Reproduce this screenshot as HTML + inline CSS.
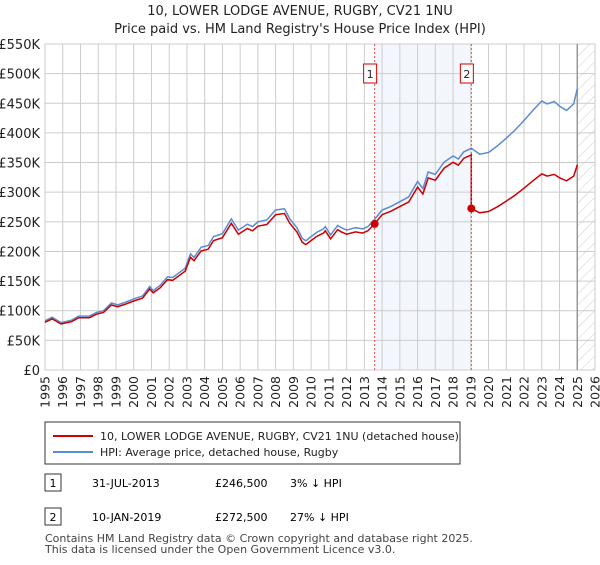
<!DOCTYPE html>
<html><head><meta charset="utf-8"><style>
body{margin:0;background:#fff;font-family:"Liberation Sans","DejaVu Sans",sans-serif;}
svg text{font-family:"DejaVu Sans","Liberation Sans",sans-serif;}
</style></head><body>
<svg id="c" width="600" height="560" viewBox="0 0 600 560">
<defs><pattern id="hatch" width="8" height="8" patternUnits="userSpaceOnUse" patternTransform="rotate(45)"><line x1="0" y1="0" x2="0" y2="8" stroke="#ccc" stroke-width="1"/></pattern></defs>
<text x="300" y="15" text-anchor="middle" font-size="13" fill="#222">10, LOWER LODGE AVENUE, RUGBY, CV21 1NU</text>
<text x="300" y="33" text-anchor="middle" font-size="13" fill="#222">Price paid vs. HM Land Registry's House Price Index (HPI)</text>
<g id="grid"></g><g id="marks"></g><g id="axes"></g>
<rect x="45" y="422" width="415" height="42" fill="#fff" stroke="#333" stroke-width="1"/>
<line x1="53" y1="436" x2="93" y2="436" stroke="#cc0000" stroke-width="2"/>
<text x="100" y="440" font-size="11" fill="#222">10, LOWER LODGE AVENUE, RUGBY, CV21 1NU (detached house)</text>
<line x1="53" y1="452" x2="93" y2="452" stroke="#5b8bd0" stroke-width="2"/>
<text x="100" y="456" font-size="11" fill="#222">HPI: Average price, detached house, Rugby</text>
<g>
<rect x="45" y="474" width="16" height="17" fill="#fff" stroke="#333"/><text x="53" y="487" text-anchor="middle" font-size="11">1</text>
<text x="92" y="487" font-size="11">31-JUL-2013</text><text x="215" y="487" font-size="11">£246,500</text><text x="290" y="487" font-size="11">3% ↓ HPI</text></g>
<g>
<rect x="45" y="508" width="16" height="17" fill="#fff" stroke="#333"/><text x="53" y="521" text-anchor="middle" font-size="11">2</text>
<text x="92" y="521" font-size="11">10-JAN-2019</text><text x="215" y="521" font-size="11">£272,500</text><text x="290" y="521" font-size="11">27% ↓ HPI</text></g>
<text x="45" y="542" font-size="11" fill="#444">Contains HM Land Registry data © Crown copyright and database right 2025.</text>
<text x="45" y="553" font-size="11" fill="#444">This data is licensed under the Open Government Licence v3.0.</text>
</svg>
<script>
const hpiYears=[1995,1995.4,1995.9,1996.5,1996.9,1997.5,1997.9,1998.3,1998.74,1999.1,1999.5,2000,2000.5,2000.9,2001.1,2001.5,2001.9,2002.2,2002.6,2002.9,2003.2,2003.4,2003.8,2004.2,2004.5,2005,2005.5,2005.9,2006.4,2006.7,2007,2007.5,2008,2008.5,2008.8,2009.2,2009.5,2009.7,2010,2010.3,2010.7,2010.8,2011.1,2011.5,2011.7,2012,2012.5,2012.9,2013.2,2013.58,2014,2014.5,2015,2015.5,2016,2016.3,2016.6,2017,2017.5,2018,2018.3,2018.6,2019.03,2019.5,2020,2020.5,2021,2021.5,2022,2022.5,2023,2023.3,2023.7,2024,2024.4,2024.8,2025.0];
const hpiValues=[83000,89000,80000,84000,91000,91000,97000,100000,113000,110000,114000,120000,125000,141000,134000,143000,157000,156000,165000,172000,196000,190000,207000,210000,225000,230000,255000,236000,246000,242000,250000,253000,270000,272000,255000,240000,222000,218000,225000,232000,238000,242000,228000,244000,240000,236000,240000,238000,242000,254000,270000,276000,284000,292000,318000,306000,334000,330000,351000,361000,356000,368000,374000,364000,367000,378000,391000,405000,421000,438000,454000,449000,453000,445000,438000,449000,475000];
const saleYears=[2013.58,2019.03];
const salePrices=[246500,272500];
const saleLabels=["1","2"];
const yTicks=[0,50000,100000,150000,200000,250000,300000,350000,400000,450000,500000,550000];
const yTickLabels=["£0","£50K","£100K","£150K","£200K","£250K","£300K","£350K","£400K","£450K","£500K","£550K"];
const xTicks=[1995,1996,1997,1998,1999,2000,2001,2002,2003,2004,2005,2006,2007,2008,2009,2010,2011,2012,2013,2014,2015,2016,2017,2018,2019,2020,2021,2022,2023,2024,2025,2026];

const X0=45,X1=595,Y0=370,Y1=44;
const xs=t=>X0+(t-1995)/(2026-1995)*(X1-X0);
const ys=v=>Y0-v/550000*(Y0-Y1);
const NS="http://www.w3.org/2000/svg";
function mk(p,tag,a){const e=document.createElementNS(NS,tag);for(const k in a)e.setAttribute(k,a[k]);p.appendChild(e);return e;}
const G=document.getElementById('grid'),M=document.getElementById('marks'),A=document.getElementById('axes');
function hpiAt(t){for(let i=0;i<hpiYears.length-1;i++){if(t<=hpiYears[i+1]){const f=(t-hpiYears[i])/(hpiYears[i+1]-hpiYears[i]);return hpiValues[i]+f*(hpiValues[i+1]-hpiValues[i]);}}return hpiValues[hpiValues.length-1];}
let r=mk(G,'rect',{x:xs(saleYears[0]),y:Y1,width:xs(saleYears[1])-xs(saleYears[0]),height:Y0-Y1,fill:'#eef3fc',opacity:0.7});


r=mk(G,'rect',{x:xs(2025),y:Y1,width:X1-xs(2025),height:Y0-Y1,fill:'url(#hatch)'});


yTicks.forEach((v,i)=>{
 const l=mk(G,'line',{x1:X0,x2:X1,y1:ys(v),y2:ys(v),stroke:'#ccc','stroke-width':1});
 
 
 const t=mk(A,'text',{x:40,y:ys(v)+5,'text-anchor':'end','font-size':13,fill:'#222'});t.textContent=yTickLabels[i];
 
 
});
xTicks.forEach(y=>{
 const l=mk(G,'line',{x1:xs(y),x2:xs(y),y1:Y1,y2:Y0,stroke:'#ccc','stroke-width':1});
 
 
 const tx=xs(y)+4.5,ty=376;
 const t=mk(A,'text',{x:tx,y:ty,'text-anchor':'end','font-size':12.5,fill:'#222',transform:`rotate(-90 ${tx} ${ty})`});t.textContent=y;
 
 
});
let vl=mk(G,'line',{x1:xs(2025),x2:xs(2025),y1:Y1,y2:Y0,stroke:'#999','stroke-width':1.5});


const hp=hpiYears.map((t,i)=>xs(t).toFixed(1)+','+ys(hpiValues[i]).toFixed(1)).join(' ');
let pl=mk(M,'polyline',{points:hp,fill:'none',stroke:'#5b8bd0','stroke-width':1.5});


const h1=hpiAt(saleYears[0]),h2=hpiAt(saleYears[1]);
const pts=[];
hpiYears.forEach((t,i)=>{
 let v;
 if(t<saleYears[1]) v=salePrices[0]*hpiValues[i]/h1;
 else v=salePrices[1]*hpiValues[i]/h2;
 if(t===saleYears[1]) pts.push([t,salePrices[0]*hpiValues[i]/h1]);
 pts.push([t,v]);
});
pl=mk(M,'polyline',{points:pts.map(p=>xs(p[0]).toFixed(1)+','+ys(p[1]).toFixed(1)).join(' '),fill:'none',stroke:'#cc0000','stroke-width':1.5});


saleYears.forEach((t,i)=>{
 const l=mk(M,'line',{x1:xs(t),x2:xs(t),y1:Y1,y2:Y0,stroke:'#e05050','stroke-width':1,'stroke-dasharray':'2,2'});
 
 
 const c=mk(M,'circle',{cx:xs(t),cy:ys(salePrices[i]),r:4,fill:'#cc0000'});
 
 
 const b=mk(M,'rect',{x:xs(t)-11,y:64,width:13,height:19,fill:'#fff',stroke:'#cc0000'});
 
 
 const tx=mk(M,'text',{x:xs(t)-4.5,y:78,'text-anchor':'middle','font-size':11,fill:'#222'});tx.textContent=saleLabels[i];
 
 
});
</script>
</body></html>
